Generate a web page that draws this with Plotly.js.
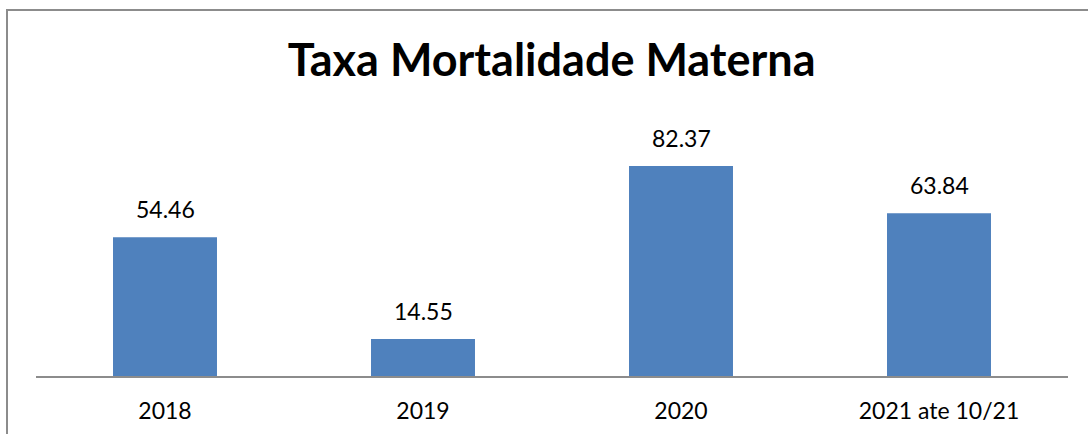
<!DOCTYPE html>
<html>
<head>
<meta charset="utf-8">
<script src="https://cdn.plot.ly/plotly-3.0.1.min.js"></script>
<style>
html,body{margin:0;padding:0;background:#fff;}
#wrap{position:relative;width:1088px;height:434px;overflow:hidden;}
#frame{position:absolute;left:6px;top:9px;width:1100px;height:440px;border-left:2px solid #8c8c8c;border-top:2px solid #8c8c8c;box-sizing:border-box;pointer-events:none;z-index:5;}
#chart{position:absolute;left:0;top:0;width:1088px;height:434px;}
</style>
</head>
<body>
<div id="wrap"><div id="chart"></div><div id="frame"></div></div>
<script>
var categories = ["2018", "2019", "2020", "2021 ate 10/21"];
var values = [54.46, 14.55, 82.37, 63.84];
var valueLabels = ["54.46", "14.55", "82.37", "63.84"];
var chartTitle = "Taxa Mortalidade Materna";

var font = "Lato, 'Open Sans', sans-serif";
var idx = categories.map(function(c, i){ return i; });

var trace = {
  type: "bar",
  x: idx,
  y: values,
  width: 0.403,
  marker: {color: "#4F81BD"},
  hoverinfo: "none"
};

var annotations = idx.map(function(i){
  return {x: i, y: values[i], text: valueLabels[i], showarrow: false,
    xref: "x", yref: "y", yanchor: "bottom", yshift: 12,
    font: {family: font, size: 23, color: "#000"}};
});

var layout = {
  width: 1088, height: 434,
  margin: {l: 36, r: 20, t: 121, b: 58},
  paper_bgcolor: "#fff", plot_bgcolor: "#fff",
  showlegend: false,
  title: {text: "<b>" + chartTitle + "</b>", x: 0.507, xanchor: "center", y: 0.862, yanchor: "middle",
    font: {family: font, size: 45, color: "#000"}},
  xaxis: {
    range: [-0.5, 3.5],
    tickmode: "array", tickvals: idx, ticktext: categories,
    showline: true, linecolor: "#8c8c8c", linewidth: 2,
    ticks: "outside", ticklen: 13, tickcolor: "rgba(0,0,0,0)",
    showgrid: false, zeroline: false,
    tickfont: {family: font, size: 23, color: "#000"}
  },
  yaxis: {
    range: [0, 100], visible: false, showgrid: false, zeroline: false
  },
  annotations: annotations
};

Plotly.newPlot("chart", [trace], layout, {displayModeBar: false, staticPlot: true});
</script>
</body>
</html>
